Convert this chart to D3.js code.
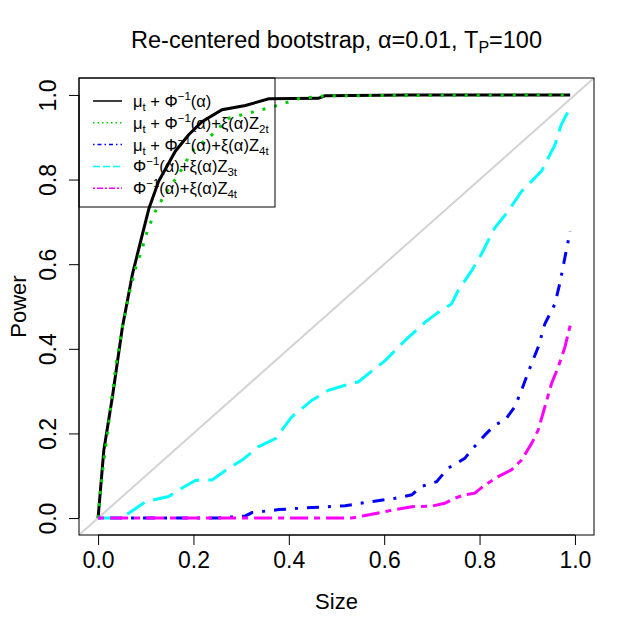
<!DOCTYPE html>
<html>
<head>
<meta charset="utf-8">
<script src="https://cdn.jsdelivr.net/npm/d3@7"></script>
<style>
  body { margin: 0; background: #fff; }
  svg { display: block; font-family: "Liberation Sans", Arial, sans-serif; }
</style>
</head>
<body>
<svg width="636" height="633"></svg>
<script>
// values
const sizeBlack = [0, 0.012, 0.03, 0.051, 0.072, 0.093, 0.107, 0.127, 0.162, 0.19, 0.218, 0.26, 0.309, 0.358, 0.462, 0.476, 0.65, 0.99];
const powerBlack = [0, 0.16, 0.286, 0.451, 0.576, 0.671, 0.733, 0.796, 0.867, 0.906, 0.937, 0.965, 0.975, 0.991, 0.992, 0.998, 1, 1];

const sizeGreen = [0, 0.009, 0.023, 0.037, 0.051, 0.065, 0.079, 0.093, 0.103, 0.12, 0.14, 0.169, 0.197, 0.239, 0.274, 0.33, 0.379, 0.42, 0.476, 0.99];
const powerGreen = [0, 0.106, 0.231, 0.357, 0.451, 0.529, 0.592, 0.639, 0.678, 0.725, 0.765, 0.812, 0.867, 0.906, 0.945, 0.961, 0.976, 0.991, 0.998, 1];

const sizeBlue = [0, 0.25, 0.309, 0.323, 0.379, 0.448, 0.518, 0.574, 0.623, 0.658, 0.679, 0.71, 0.734, 0.769, 0.783, 0.811, 0.832, 0.853, 0.874, 0.888, 0.909, 0.923, 0.937, 0.958, 0.968, 0.979, 0.99];
const powerBlue = [0, 0, 0.005, 0.013, 0.02, 0.025, 0.029, 0.039, 0.047, 0.055, 0.075, 0.086, 0.118, 0.141, 0.161, 0.196, 0.22, 0.231, 0.263, 0.302, 0.365, 0.404, 0.459, 0.506, 0.553, 0.616, 0.678];

const sizeCyan = [0, 0.044, 0.065, 0.1, 0.148, 0.176, 0.204, 0.239, 0.274, 0.302, 0.337, 0.372, 0.406, 0.448, 0.483, 0.518, 0.546, 0.567, 0.602, 0.644, 0.686, 0.713, 0.741, 0.755, 0.783, 0.804, 0.832, 0.86, 0.888, 0.916, 0.93, 0.944, 0.958, 0.971, 0.99];
const powerCyan = [0, 0, 0.012, 0.039, 0.051, 0.071, 0.089, 0.09, 0.118, 0.137, 0.169, 0.188, 0.239, 0.278, 0.302, 0.314, 0.322, 0.341, 0.372, 0.42, 0.463, 0.486, 0.506, 0.537, 0.584, 0.624, 0.686, 0.725, 0.772, 0.804, 0.82, 0.851, 0.882, 0.929, 0.97];

const sizeMagenta = [0, 0.532, 0.56, 0.588, 0.623, 0.658, 0.699, 0.727, 0.748, 0.769, 0.79, 0.811, 0.839, 0.867, 0.888, 0.909, 0.923, 0.937, 0.951, 0.965, 0.979, 0.99];
const powerMagenta = [0, 0, 0.006, 0.012, 0.02, 0.027, 0.028, 0.035, 0.047, 0.055, 0.059, 0.078, 0.098, 0.114, 0.137, 0.176, 0.208, 0.263, 0.318, 0.357, 0.404, 0.455];

const ticks = [0, 0.2, 0.4, 0.6, 0.8, 1.0];

const series = [
  { xs: sizeBlack, ys: powerBlack, color: '#000000', dash: null, legDash: null },
  { xs: sizeGreen, ys: powerGreen, color: '#00cd00', dash: '3,9', legDash: '1.5,3' },
  { xs: sizeBlue, ys: powerBlue, color: '#0000ff', dash: '3,9,12,9', legDash: '1.5,3,4,3' },
  { xs: sizeCyan, ys: powerCyan, color: '#00ffff', dash: '21,9', legDash: '7,3' },
  { xs: sizeMagenta, ys: powerMagenta, color: '#ff00ff', dash: '6,6,18,6', legDash: '2,2,6,2' }
];

const boxLeft = 79, boxRight = 594, boxTop = 78, boxBottom = 535;
const svg = d3.select('svg');

const x = d3.scaleLinear().domain([-0.04, 1.04]).range([boxLeft, boxRight]);
const y = d3.scaleLinear().domain([-0.04, 1.04]).range([boxBottom, boxTop]);

svg.append('defs').append('clipPath').attr('id', 'clip')
  .append('rect')
  .attr('x', boxLeft).attr('y', boxTop)
  .attr('width', boxRight - boxLeft).attr('height', boxBottom - boxTop);

// 45 degree reference line
svg.append('line')
  .attr('clip-path', 'url(#clip)')
  .attr('x1', x(-0.04)).attr('y1', y(-0.04))
  .attr('x2', x(1.04)).attr('y2', y(1.04))
  .attr('stroke', '#d3d3d3').attr('stroke-width', 2);

const line = d3.line()
  .x(function(d) { return x(d[0]); })
  .y(function(d) { return y(d[1]); });

series.forEach(function(s) {
  svg.append('path')
    .datum(d3.zip(s.xs, s.ys))
    .attr('d', line)
    .attr('fill', 'none')
    .attr('stroke', s.color)
    .attr('stroke-width', 3)
    .attr('stroke-dasharray', s.dash);
});

// axes
const xAxis = svg.append('g')
  .attr('transform', `translate(0, ${boxBottom})`)
  .call(d3.axisBottom(x).tickValues(ticks).tickFormat(d3.format('.1f')).tickSize(10).tickSizeOuter(0));
xAxis.select('.domain').attr('d', `M${x(0)},0H${x(1)}`).attr('stroke', '#000');
xAxis.selectAll('text').attr('font-size', 23).attr('dy', null).attr('y', 0)
  .attr('transform', 'translate(0, 33)').attr('fill', '#000').attr('font-family', 'Liberation Sans, Arial, sans-serif');

const yAxis = svg.append('g')
  .attr('transform', `translate(${boxLeft}, 0)`)
  .call(d3.axisLeft(y).tickValues(ticks).tickFormat(d3.format('.1f')).tickSize(10).tickSizeOuter(0));
yAxis.select('.domain').attr('d', `M0,${y(0)}V${y(1)}`).attr('stroke', '#000');
yAxis.selectAll('text')
  .attr('x', null).attr('dy', null)
  .attr('text-anchor', 'middle')
  .attr('transform', 'translate(-23, 0) rotate(-90)')
  .attr('font-size', 23).attr('fill', '#000').attr('font-family', 'Liberation Sans, Arial, sans-serif');

svg.append('rect')
  .attr('x', boxLeft).attr('y', boxTop)
  .attr('width', boxRight - boxLeft).attr('height', boxBottom - boxTop)
  .attr('fill', 'none').attr('stroke', '#000');

// axis titles
svg.append('text').attr('x', (boxLeft + boxRight) / 2).attr('y', 609)
  .attr('text-anchor', 'middle').attr('font-size', 22).text('Size');
svg.append('text')
  .attr('transform', `translate(26, ${(boxTop + boxBottom) / 2}) rotate(-90)`)
  .attr('text-anchor', 'middle').attr('font-size', 22).text('Power');

// title
const title = svg.append('text').attr('x', (boxLeft + boxRight) / 2).attr('y', 48)
  .attr('text-anchor', 'middle').attr('font-size', 23.5);
title.append('tspan').text('Re-centered bootstrap, α=0.01, T');
title.append('tspan').attr('font-size', 16).attr('dy', 5).text('P');
title.append('tspan').attr('dy', -5).text('=100');

// legend
const legend = svg.append('g');
legend.append('rect')
  .attr('x', boxLeft).attr('y', boxTop).attr('width', 196).attr('height', 129)
  .attr('fill', 'none').attr('stroke', '#000');

// label pieces: [text, kind] where kind: n normal, b subscript, p superscript
const labels = [
  [['μ', 'n'], ['t', 'b'], [' + Φ', 'n'], ['−1', 'p'], ['(α)', 'n']],
  [['μ', 'n'], ['t', 'b'], [' + Φ', 'n'], ['−1', 'p'], ['(α)+ξ(α)Z', 'n'], ['2t', 'b']],
  [['μ', 'n'], ['t', 'b'], [' + Φ', 'n'], ['−1', 'p'], ['(α)+ξ(α)Z', 'n'], ['4t', 'b']],
  [['Φ', 'n'], ['−1', 'p'], ['(α)+ξ(α)Z', 'n'], ['3t', 'b']],
  [['Φ', 'n'], ['−1', 'p'], ['(α)+ξ(α)Z', 'n'], ['4t', 'b']]
];
const offs = { n: 0, b: 4, p: -7 };

series.forEach(function(s, i) {
  const ly = 101 + i * 21.8;
  legend.append('line')
    .attr('x1', 93).attr('x2', 122).attr('y1', ly).attr('y2', ly)
    .attr('stroke', s.color).attr('stroke-width', 1.5)
    .attr('stroke-dasharray', s.legDash);
  const t = legend.append('text').attr('x', 133).attr('y', ly + 6).attr('font-size', 16.5);
  let prev = 0;
  labels[i].forEach(function(p) {
    const o = offs[p[1]];
    t.append('tspan')
      .attr('dy', o - prev)
      .attr('font-size', p[1] === 'n' ? 16.5 : 11.5)
      .text(p[0]);
    prev = o;
  });
});
</script>
</body>
</html>
